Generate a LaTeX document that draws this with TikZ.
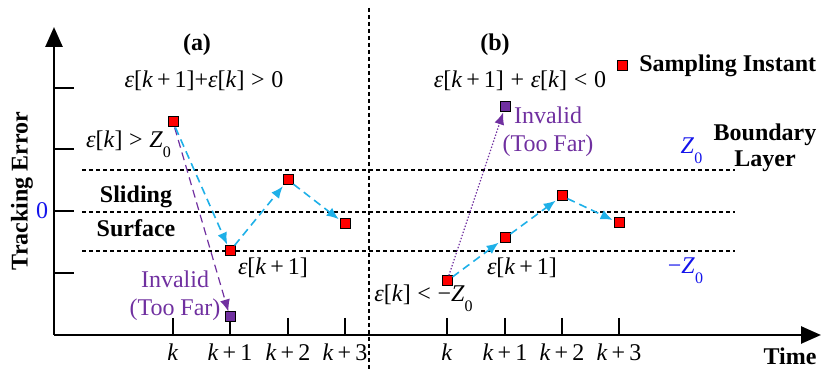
\documentclass[tikz,border=0pt]{standalone}
\usepackage{fontspec}
\setmainfont{Liberation Serif}
\usetikzlibrary{arrows.meta}
\definecolor{cyanarr}{RGB}{30,176,232}
\definecolor{purp}{RGB}{112,48,160}
\definecolor{zblue}{RGB}{20,20,235}
\newcommand{\ep}{\textit{ε}}
\newcommand{\kk}{\textit{k}}
\newcommand{\Zz}{\textit{Z}\textsubscript{\raisebox{-0.9ex}{0}}}
\tikzset{
  axis/.style={line width=1.3pt},
  axisarrow/.style={line width=1.3pt,-{Triangle[length=10pt,width=8.5pt]}},
  bline/.style={line width=0.9pt,dash pattern=on 2pt off 1.5pt},
  samp/.style={draw=black,fill=red,minimum size=5pt,inner sep=0pt,line width=0.5pt},
  inval/.style={samp,fill=purp},
  carr/.style={cyanarr,line width=0.8pt,dash pattern=on 4pt off 2.5pt,-{Latex[length=6pt,width=5pt]},shorten >=0.5pt},
  parr/.style={purp,line width=0.6pt,dash pattern=on 4pt off 2.5pt,-{Latex[length=6pt,width=5pt]}},
  pdot/.style={purp,line width=0.6pt,dash pattern=on 0.7pt off 0.9pt,-{Latex[length=6pt,width=5pt]}},
  lbl/.style={inner sep=0pt,anchor=center},
  blbl/.style={lbl,font=\fontsize{12}{14}\selectfont\bfseries},
  plbl/.style={lbl,text=purp,align=center}
}
\begin{document}
\begin{tikzpicture}[x=0.5pt,y=-0.5pt,font=\fontsize{12}{14}\selectfont]
\useasboundingbox (0,0) rectangle (821,369);
% axes
\coordinate (O) at (54,335);
\coordinate (ytip) at (54,27);
\coordinate (xtip) at (821,335);
\draw[axisarrow] (O) -- (ytip);
\draw[axisarrow] (O) -- (xtip);
\foreach \y in {88,149,211,273} \draw[axis] (54,\y) -- (74,\y);
\foreach \x in {173,230,288,345,447,505,562,619} \draw[axis] (\x,318) -- (\x,335);
% dashed reference lines
\draw[bline] (82,170) -- (735,170);
\draw[bline] (82,212) -- (735,212);
\draw[bline] (82,251) -- (735,251);
\draw[bline] (369,8) -- (369,369);
% labels
\node[blbl,rotate=90] (yl) at (22,191) {Tracking Error};
\node[lbl,text=zblue] (zero) at (42,211) {0};
\node[blbl] (tm) at (790,356) {Time};
\node[blbl] (ta) at (197,45) {(a)};
\node[blbl] (tb) at (495,45) {(b)};
\node[lbl] (fa) at (204,81) {\ep[\kk\,+\,1]+\ep[\kk]\;>\;0};
\node[lbl] (fb) at (520,81) {\ep[\kk\,+\,1]\;+\;\ep[\kk]\;<\;0};
\node[samp] (leg) at (622,66) {};
\node[blbl,anchor=west] (legt) at (639,66) {Sampling Instant};
\node[blbl] (bd) at (765,135) {Boundary};
\node[blbl] (ly) at (765,161) {Layer};
\node[lbl,text=zblue] (zp) at (692,151) {\Zz};
\node[lbl,text=zblue] (zm) at (686,271) {−\Zz};
\node[blbl] (sl) at (136,197) {Sliding};
\node[blbl] (sf) at (136,228) {Surface};
% tick labels
\node[lbl] (ta0) at (173,352) {\kk};
\node[lbl] (ta1) at (230,352) {\kk\,+\,1};
\node[lbl] (ta2) at (288,352) {\kk\,+\,2};
\node[lbl] (ta3) at (345,352) {\kk\,+\,3};
\node[lbl] (tb0) at (447,352) {\kk};
\node[lbl] (tb1) at (505,352) {\kk\,+\,1};
\node[lbl] (tb2) at (562,352) {\kk\,+\,2};
\node[lbl] (tb3) at (619,352) {\kk\,+\,3};
% (a) points
\node[samp] (p0) at (173,122) {};
\node[samp] (p1) at (230,251) {};
\node[samp] (p2) at (288,180) {};
\node[samp] (p3) at (345,224) {};
\node[inval] (pi) at (230,317) {};
\node[lbl] (la0) at (129,144) {\ep[\kk]\;>\;\Zz};
\node[lbl] (la1) at (273,268) {\ep[\kk\,+\,1]};
\node[plbl] (ia) at (175,296) {Invalid\\(Too Far)};
\draw[parr] (p0) -- (pi);
\draw[carr] (p0) -- (p1);
\draw[carr] (p1) -- (p2);
\draw[carr] (p2) -- (p3);
% (b) points
\node[samp] (q0) at (447,281) {};
\node[samp] (q1) at (505,238) {};
\node[samp] (q2) at (562,196) {};
\node[samp] (q3) at (619,223) {};
\node[inval] (qi) at (505,107) {};
\node[lbl] (lb0) at (424,298) {\ep[\kk]\;<\;−\Zz};
\node[lbl] (lb1) at (522,268) {\ep[\kk\,+\,1]};
\node[plbl] (ib) at (548,132) {Invalid\\(Too Far)};
\draw[pdot] (q0) -- (qi);
\draw[carr] (q0) -- (q1);
\draw[carr] (q1) -- (q2);
\draw[carr] (q2) -- (q3);
\end{tikzpicture}
\end{document}
